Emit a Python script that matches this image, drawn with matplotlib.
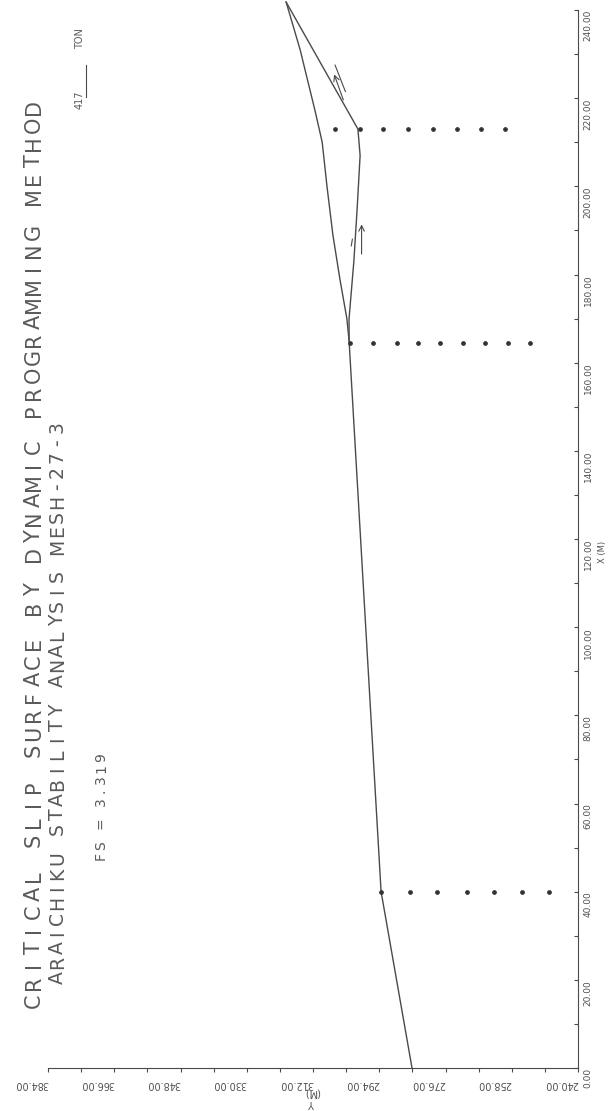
import matplotlib.pyplot as plt
import numpy as np

# Data (X along the slope, Y = elevation), metres
ground_x = [0, 40, 165, 170, 179, 189, 200, 210, 217, 231, 241.8]
ground_y = [285.1, 293.5, 302.2, 302.8, 304.7, 306.6, 308.2, 309.5, 311.4, 315.5, 319.3]

slip_x = [165, 170, 183, 195, 207, 213, 241.8]
slip_y = [302.2, 302.2, 300.9, 300.0, 299.2, 299.8, 319.3]

# search grid nodes on three stage lines
stage1_x = 40
stage1_y = [293.5, 285.6, 278.3, 270.2, 262.8, 255.2, 247.9]
stage2_x = 164.5
stage2_y = [301.9, 295.7, 289.2, 283.5, 277.5, 271.2, 265.3, 259.0, 253.0]
stage3_x = 213
stage3_y = [306.0, 299.2, 293.0, 286.2, 279.4, 272.9, 266.4, 259.8]

y_ticks = np.arange(240, 385, 9)
y_labels = [f"{v:.2f}" if (v - 240) % 18 == 0 else "" for v in y_ticks]
x_ticks = np.arange(0, 241, 10)
x_labels = [f"{v:.2f}" if v % 20 == 0 else "" for v in x_ticks]

title1 = "CRITICAL SLIP SURFACE BY DYNAMIC PROGRAMMING METHOD"
title2 = "ARAICHIKU STABILITY ANALYSIS MESH-27-3"
fs_text = "FS = 3.319"

ink = "#4a4a4a"
txt = "#5a5a5a"
W, H = 608, 1111
fig = plt.figure(figsize=(W / 100, H / 100), dpi=100)
ax = fig.add_axes([48 / W, 1 - 1068 / H, 530 / W, 1058 / H])


def plotter_text(s, x_base, y_start, step, size):
    # old pen-plotter lettering: fixed pitch, written bottom-to-top
    for i, ch in enumerate(s):
        if ch == " ":
            continue
        y = y_start - (i + 0.5) * step
        fig.text(x_base / W, 1 - y / H, ch, rotation=90, rotation_mode="anchor",
                 ha="center", va="baseline", fontsize=size, color=txt)


# the sheet is turned on its side: elevation runs right-to-left, X runs up
ax.plot(ground_y, ground_x, color=ink, lw=1.0, clip_on=False)
ax.plot(slip_y, slip_x, color=ink, lw=1.0, clip_on=False)
for sx, sy in [(stage1_x, stage1_y), (stage2_x, stage2_y), (stage3_x, stage3_y)]:
    ax.plot(sy, [sx] * len(sy), "o", color="#333333", ms=2.4, ls="none")

# little force arrows along the slip
ax.annotate("", xy=(306.5, 226), xytext=(303.5, 219),
            arrowprops=dict(arrowstyle="->", color=ink, lw=0.8))
ax.plot([306.0, 303.2], [227.5, 221.5], color=ink, lw=0.8)
ax.annotate("", xy=(298.8, 192), xytext=(298.8, 184),
            arrowprops=dict(arrowstyle="->", color=ink, lw=0.8))
ax.plot([301.3, 301.6], [188, 186.5], color=ink, lw=0.8)

ax.set_xlim(384, 240)
ax.set_ylim(0, 240)
ax.spines["top"].set_visible(False)
ax.spines["left"].set_visible(False)
ax.spines["bottom"].set_color(ink)
ax.spines["right"].set_color(ink)

ax.set_xticks(y_ticks)
ax.set_xticklabels(y_labels, rotation=180, ha="right", va="top",
                   fontsize=7, color="#505050")
ax.yaxis.tick_right()
ax.set_yticks(x_ticks)
ax.set_yticklabels(x_labels, rotation=90, ha="left", va="top",
                   fontsize=6.5, color="#505050")
ax.tick_params(axis="x", direction="out", length=3, width=0.8, color=ink, pad=5)
ax.tick_params(axis="y", direction="in", length=3, width=0.8, color=ink, pad=4)

fig.text(312 / W, 1 - 1093 / H, "(M)", rotation=180, fontsize=7,
         color="#505050", ha="center", va="center")
fig.text(312 / W, 1 - 1103 / H, "Y", rotation=180, fontsize=7,
         color="#505050", ha="center", va="center")
fig.text(603 / W, 1 - 552 / H, "X (M)", rotation=90, fontsize=6,
         color="#505050", ha="center", va="center")

plotter_text(title1, 40, 1010, 912 / len(title1), 15)
plotter_text(title2, 63, 985, 565 / len(title2), 13.5)
plotter_text(fs_text, 105, 862, 110 / len(fs_text), 10)

fig.text(80 / W, 1 - 100 / H, "417", rotation=90, fontsize=7,
         color=txt, ha="center", va="center")
fig.add_artist(plt.Line2D([86 / W, 86 / W], [1 - 97 / H, 1 - 65 / H],
                          color=ink, lw=0.8))
fig.text(80 / W, 1 - 39 / H, "TON", rotation=90, fontsize=7,
         color=txt, ha="center", va="center")

fig.savefig("out.png", dpi=100, facecolor="white")
